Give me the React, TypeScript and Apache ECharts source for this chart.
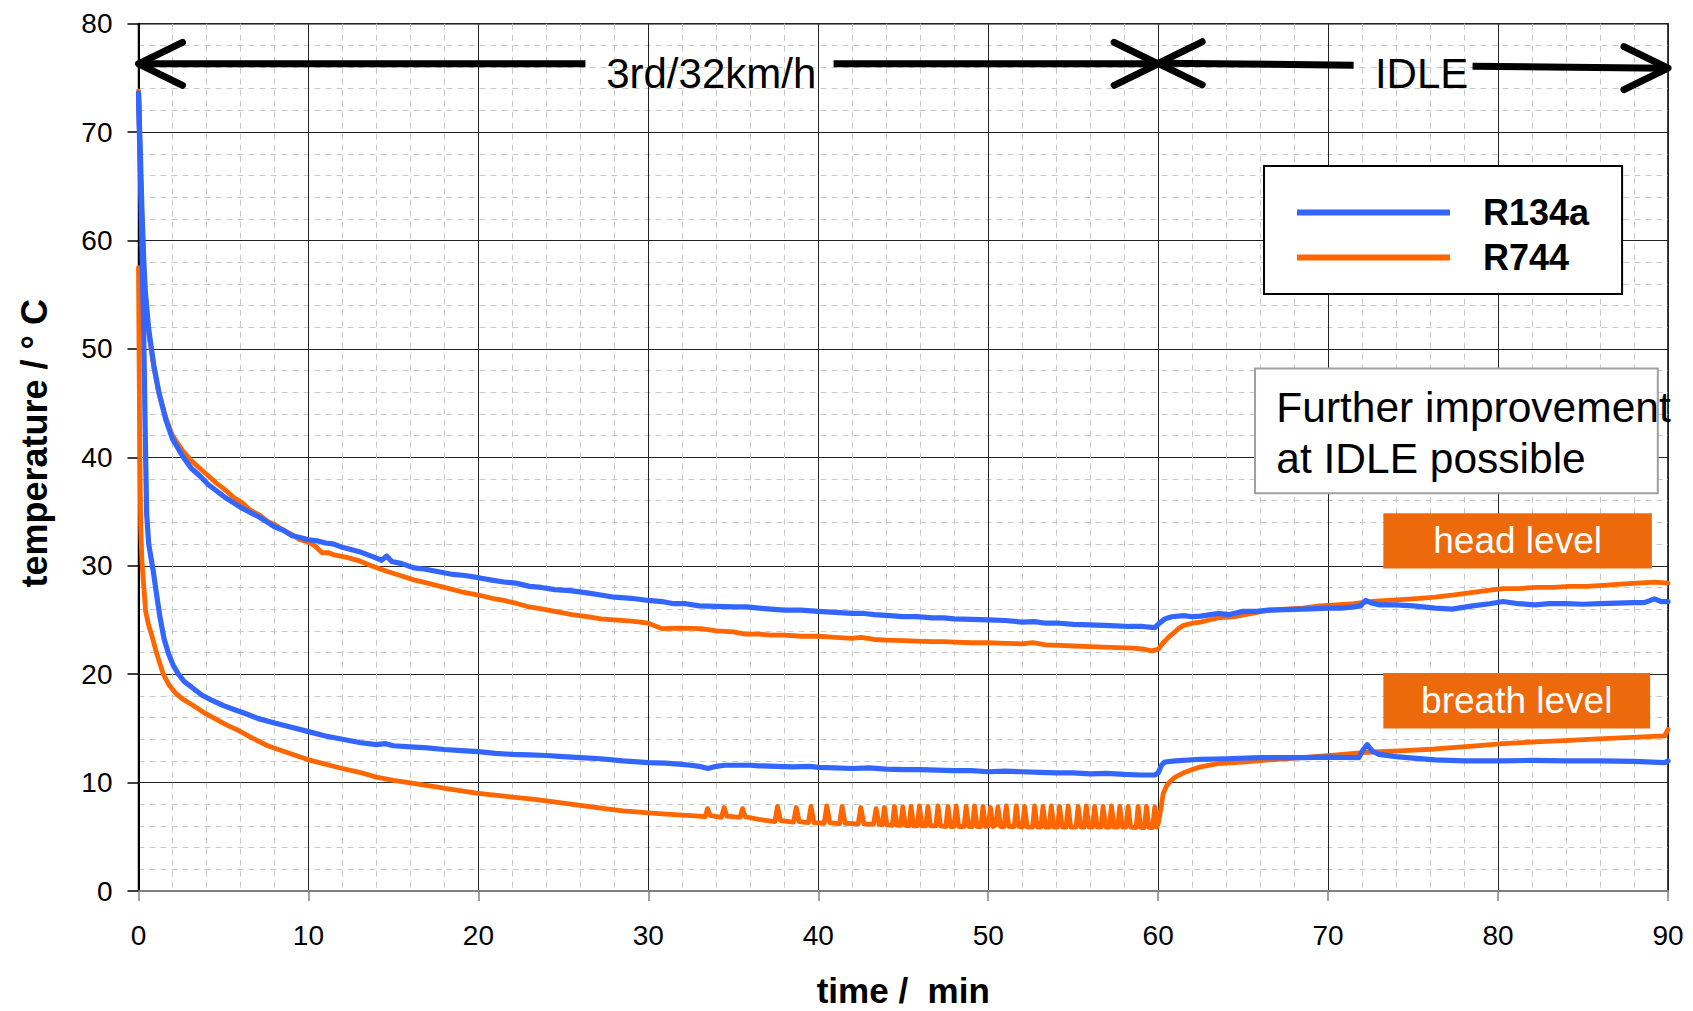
import React, { useEffect, useRef } from "react";
import * as echarts from "echarts";

const FONT = "'Liberation Sans', Arial, Helvetica, sans-serif";
const BLUE = "#3366FF";
const ORANGE = "#FF6600";
const TAG = "#EC6A0C";

const X_MIN = 0;
const X_MAX = 90;
const X_STEP = 10;
const Y_MIN = 0;
const Y_MAX = 80;
const Y_STEP = 10;

const SERIES_NAMES = ["R134a", "R744"];

// R134a, head level  [time min, temperature °C]
const R134A_HEAD: number[][] = [
  [0, 73.6], [0.1, 68.5], [0.2, 63.0], [0.3, 58.5], [0.4, 55.3], [0.6, 51.8], [0.9, 48.5], [1.2, 46.0],
  [1.6, 43.5], [2.0, 41.7], [2.6, 40.1], [3.1, 39.0], [3.6, 38.3], [4.1, 37.5], [4.6, 36.9], [5.1, 36.3],
  [5.6, 35.8], [6.1, 35.3], [6.6, 34.9], [7.1, 34.5], [7.6, 34.0], [8.0, 33.6], [8.5, 33.3], [9.0, 32.8],
  [9.5, 32.6], [10.0, 32.4], [10.5, 32.3], [11.0, 32.1], [11.5, 32.0], [12.0, 31.7], [12.5, 31.5], [13.0, 31.3],
  [13.5, 31.0], [14.0, 30.7], [14.3, 30.5], [14.6, 30.9], [14.9, 30.4], [15.5, 30.2], [16.2, 29.8], [16.8, 29.7],
  [17.5, 29.5], [18.5, 29.2], [19.2, 29.1], [20, 28.9], [20.7, 28.7], [21.5, 28.5], [22.2, 28.4], [23, 28.1],
  [23.7, 28.0], [24.5, 27.8], [25.4, 27.7], [26.4, 27.5], [27.2, 27.3], [28, 27.1], [29, 27.0], [30, 26.8],
  [30.8, 26.7], [31.5, 26.5], [32.2, 26.5], [33, 26.3], [34, 26.25], [35, 26.2], [35.8, 26.2], [36.5, 26.1],
  [37.2, 26.0], [38, 25.9], [39, 25.9], [40, 25.8], [41, 25.7], [42, 25.6], [42.7, 25.6], [43.3, 25.5],
  [44.2, 25.4], [45, 25.3], [45.8, 25.3], [46.7, 25.2], [47.4, 25.2], [48, 25.1], [49, 25.05], [50, 25.0],
  [51, 24.95], [52, 24.8], [52.7, 24.85], [53.4, 24.7], [54.2, 24.7], [55, 24.6], [56, 24.55], [56.8, 24.5],
  [57.5, 24.45], [58.3, 24.4], [59.1, 24.4], [59.8, 24.3], [60.0, 24.6], [60.4, 25.1], [60.8, 25.3], [61.5, 25.4],
  [62, 25.3], [62.5, 25.35], [63.5, 25.6], [64.2, 25.5], [65, 25.8], [65.8, 25.8], [66.5, 25.9], [67.5, 25.95],
  [68.5, 26.0], [69.3, 26.05], [70, 26.1], [70.8, 26.1], [71.5, 26.2], [71.9, 26.3], [72.2, 26.8], [72.5, 26.6],
  [73, 26.4], [74, 26.4], [75, 26.3], [76.3, 26.1], [77.3, 26.0], [78.5, 26.3], [79.5, 26.5], [80.3, 26.7],
  [81.2, 26.5], [82.2, 26.4], [83, 26.5], [84, 26.5], [85, 26.45], [86, 26.5], [87, 26.55], [88, 26.6],
  [88.6, 26.6], [89.2, 26.95], [89.6, 26.7], [90, 26.7],
];

// R744, head level
const R744_HEAD: number[][] = [
  [0, 73.8], [0.05, 70.0], [0.1, 67.0], [0.2, 62.0], [0.3, 57.8], [0.4, 55.0], [0.6, 51.5], [0.9, 48.3],
  [1.2, 45.9], [1.6, 43.7], [2.0, 42.0], [2.6, 40.6], [3.1, 39.7], [3.6, 39.0], [4.1, 38.3], [4.6, 37.6],
  [5.1, 37.0], [5.6, 36.3], [6.1, 35.8], [6.6, 35.1], [7.1, 34.7], [7.6, 34.1], [8.0, 33.8], [8.5, 33.3],
  [9.0, 32.9], [9.5, 32.4], [10.0, 32.2], [10.4, 31.8], [10.8, 31.2], [11.2, 31.2], [11.5, 31.0], [12.2, 30.8],
  [12.9, 30.5], [13.7, 30.0], [14.6, 29.5], [15.4, 29.1], [16.2, 28.7], [17.0, 28.4], [18, 28.0], [19, 27.6],
  [20, 27.3], [20.8, 27.0], [21.5, 26.8], [22.3, 26.5], [23, 26.2], [23.8, 26.0], [24.5, 25.8], [25.5, 25.5],
  [26.4, 25.3], [27.2, 25.1], [28, 25.0], [29, 24.9], [30, 24.7], [30.8, 24.2], [31.8, 24.25], [33.1, 24.2],
  [34, 24.0], [35, 23.9], [35.7, 23.7], [36.5, 23.7], [37.2, 23.6], [38, 23.6], [39, 23.5], [40, 23.5],
  [41, 23.4], [42, 23.3], [42.5, 23.4], [43.3, 23.2], [44, 23.15], [45, 23.1], [45.8, 23.05], [46.7, 23.0],
  [47.4, 23.0], [48, 22.95], [49, 22.9], [50, 22.9], [51, 22.85], [52, 22.8], [52.6, 22.9], [53.4, 22.7],
  [54.2, 22.65], [55, 22.6], [56, 22.55], [56.8, 22.5], [57.6, 22.45], [58.5, 22.4], [59.2, 22.3], [59.6, 22.15],
  [60.0, 22.3], [60.3, 22.9], [60.6, 23.4], [60.9, 23.8], [61.2, 24.2], [61.5, 24.5], [62, 24.7], [62.5, 24.8],
  [63, 25.0], [63.5, 25.2], [64.5, 25.3], [65.5, 25.6], [66.5, 25.9], [67.5, 26.0], [68.5, 26.1], [69.5, 26.3],
  [70.5, 26.4], [71.5, 26.5], [72.4, 26.7], [73.5, 26.8], [74.5, 26.9], [75.4, 27.0], [76.3, 27.1], [77.3, 27.3],
  [78.3, 27.5], [79.3, 27.7], [80.3, 27.9], [81.2, 27.9], [82.2, 28.0], [83.2, 28.0], [84.2, 28.1], [85.2, 28.1],
  [86.2, 28.2], [87.2, 28.3], [88.2, 28.4], [89.2, 28.5], [90, 28.4],
];

// R134a, breath level
const R134A_BREATH: number[][] = [
  [0, 73.6], [0.08, 68], [0.15, 63.5], [0.22, 58], [0.3, 52], [0.36, 46], [0.42, 40], [0.48, 34.8],
  [0.6, 32.0], [0.75, 30.6], [0.88, 29.4], [1.05, 27.5], [1.27, 25.2], [1.5, 23.3], [1.76, 21.9], [2.05, 20.8],
  [2.35, 20.0], [2.7, 19.3], [3.13, 18.8], [3.7, 18.1], [4.3, 17.6], [5.0, 17.1], [5.7, 16.7], [6.4, 16.3],
  [7.06, 15.9], [8.0, 15.5], [9.0, 15.1], [10, 14.7], [11, 14.3], [12, 14.0], [13, 13.7], [14, 13.5],
  [14.5, 13.6], [15, 13.4], [16, 13.3], [17, 13.2], [18, 13.05], [19, 12.95], [20, 12.85], [21, 12.7],
  [22, 12.6], [23, 12.55], [24, 12.5], [25, 12.4], [26, 12.3], [27.2, 12.2], [28.5, 12.0], [30, 11.85],
  [31, 11.8], [31.8, 11.7], [32.5, 11.6], [33, 11.5], [33.5, 11.3], [34, 11.5], [34.5, 11.6], [35, 11.6],
  [36, 11.6], [36.5, 11.55], [37.5, 11.5], [38.5, 11.45], [39.5, 11.5], [40, 11.4], [41, 11.35], [42, 11.3],
  [43, 11.35], [44, 11.25], [45, 11.2], [46, 11.2], [47, 11.15], [48, 11.1], [49, 11.1], [50, 11.0],
  [51, 11.05], [52, 11.0], [53, 10.95], [54, 10.9], [55, 10.9], [56, 10.8], [57, 10.85], [58, 10.75],
  [59, 10.7], [59.8, 10.7], [60.0, 10.9], [60.2, 11.6], [60.4, 11.9], [61, 12.0], [62.5, 12.15], [64, 12.2],
  [66, 12.3], [68.5, 12.3], [70, 12.35], [71.8, 12.3], [72.05, 13.0], [72.3, 13.5], [72.6, 12.9], [73, 12.6],
  [74, 12.4], [75, 12.25], [76.3, 12.1], [78, 12.0], [80.3, 12.0], [82, 12.05], [84, 12.0], [86, 12.0],
  [88, 11.95], [89.8, 11.85], [90, 12.0],
];

// R744, breath level
const R744_BREATH: number[][] = [
  [0, 57.5], [0.04, 48], [0.08, 40], [0.13, 33.6], [0.2, 30.5], [0.29, 28.5], [0.42, 25.8], [0.6, 24.5],
  [0.78, 23.6], [1.07, 21.9], [1.46, 20.0], [1.8, 19.0], [2.15, 18.3], [2.6, 17.7], [3.13, 17.2], [3.8, 16.5],
  [4.5, 15.9], [5.2, 15.3], [5.9, 14.8], [6.7, 14.1], [7.6, 13.4], [8.7, 12.8], [10, 12.1], [11, 11.7],
  [12, 11.3], [13, 10.95], [14, 10.5], [15, 10.2], [16.1, 9.95], [17.5, 9.6], [18.5, 9.35], [20, 9.0],
  [21.5, 8.75], [23.3, 8.45], [25, 8.1], [27.2, 7.65], [28.5, 7.4], [30, 7.2], [31.5, 7.05], [33.0, 6.9],
  [33.35, 6.85], [33.48, 7.6], [33.65, 6.95], [34.3, 6.8], [34.46, 7.7], [34.62, 6.9], [35.4, 6.8], [35.54, 7.6],
  [35.7, 6.85], [36.5, 6.6], [37.45, 6.4], [37.6, 7.8], [37.78, 6.5], [38.55, 6.35], [38.7, 7.7], [38.88, 6.4],
  [39.42, 6.3], [39.57, 7.8], [39.75, 6.3], [40.35, 6.25], [40.5, 7.85], [40.68, 6.3], [41.25, 6.2], [41.4, 7.8],
  [41.58, 6.25], [42.35, 6.2], [42.5, 7.7], [42.68, 6.2], [43.25, 6.15], [43.4, 7.6], [43.58, 6.15],
  [43.77, 6.1], [43.89, 7.7], [44.04, 6.1], [44.36, 6.05], [44.48, 7.8], [44.63, 6.05],
  [44.85, 6.05], [44.97, 7.75], [45.12, 6.05], [45.34, 6.0], [45.46, 7.8], [45.61, 6.0],
  [45.83, 6.0], [45.95, 7.85], [46.10, 6.0], [46.33, 6.0], [46.45, 7.8], [46.60, 6.0],
  [46.92, 6.0], [47.04, 7.85], [47.19, 6.0], [47.51, 5.95], [47.63, 7.8], [47.78, 5.95],
  [47.99, 5.95], [48.11, 7.85], [48.26, 5.95], [48.58, 5.95], [48.70, 7.8], [48.85, 5.95],
  [49.07, 5.95], [49.19, 7.85], [49.34, 5.95], [49.57, 5.95], [49.69, 7.8], [49.84, 5.95],
  [50.01, 6.0], [50.13, 7.7], [50.28, 5.95], [50.45, 6.1], [50.57, 7.75], [50.72, 5.95],
  [50.94, 5.95], [51.06, 7.85], [51.21, 5.95], [51.53, 5.95], [51.65, 7.85], [51.80, 5.95],
  [52.02, 5.9], [52.14, 7.8], [52.29, 5.9], [52.61, 5.9], [52.73, 7.85], [52.88, 5.9],
  [53.10, 5.9], [53.22, 7.8], [53.37, 5.9], [53.59, 5.9], [53.71, 7.85], [53.86, 5.9],
  [54.08, 5.9], [54.20, 7.8], [54.35, 5.9], [54.58, 5.9], [54.70, 7.85], [54.85, 5.9],
  [55.17, 5.9], [55.29, 7.8], [55.44, 5.9], [55.65, 5.9], [55.77, 7.85], [55.92, 5.9],
  [56.14, 5.9], [56.26, 7.8], [56.41, 5.9], [56.64, 5.9], [56.76, 7.8], [56.91, 5.9],
  [57.13, 5.9], [57.25, 7.85], [57.40, 5.9], [57.62, 5.9], [57.74, 7.8], [57.89, 5.9],
  [58.11, 5.9], [58.23, 7.8], [58.38, 5.9], [58.70, 5.85], [58.82, 7.8], [58.97, 5.85],
  [59.19, 5.85], [59.31, 7.8], [59.46, 5.85], [59.68, 5.85], [59.80, 7.75], [59.92, 5.9],
  [60.0, 6.2], [60.15, 7.5], [60.3, 9.0], [60.5, 9.7], [60.7, 10.1], [61.0, 10.5], [61.5, 10.9], [62.0, 11.2],
  [62.5, 11.45], [63.5, 11.75], [64.5, 11.85], [65.5, 11.95], [67, 12.15], [68.5, 12.3], [70.5, 12.55], [72.4, 12.8],
  [74.5, 12.95], [76.3, 13.1], [78.3, 13.35], [80.3, 13.6], [82.2, 13.75], [84.2, 13.9], [86.2, 14.05], [88.2, 14.2],
  [89.8, 14.3], [90, 14.9],
];

// Phase arrows: start/end [time, temp], white gap (time range), label centre [time, temp]
const PHASE_LABELS = ["3rd/32km/h", "IDLE"];
const PHASE_FROM = [[0, 76.3], [60, 76.35]];
const PHASE_TO = [[60, 76.3], [90, 75.9]];
const PHASE_GAP = [[26.3, 40.9], [71.5, 78.5]];
const PHASE_TEXT_AT = [[33.7, 75.4], [75.5, 75.4]];

// Note box
const NOTE_LINES = ["Further improvement", "at IDLE possible"];
const NOTE_BOX = [[65.7, 48.2], [89.4, 36.7]];
const NOTE_TEXT_AT = [66.95, 42.2];

// Level tags
const TAG_LABELS = ["head level", "breath level"];
const TAG_BOXES = [
  [[73.25, 34.85], [89.05, 29.75]],
  [[73.25, 20.1], [88.95, 15.0]],
];

export default function App() {
  const ref = useRef<HTMLDivElement>(null);

  useEffect(() => {
    if (!ref.current) return;
    const chart = echarts.init(ref.current, null, { renderer: "svg" });

    const lineSeries = (name: string, data: number[][], color: string, width: number) => ({
      name,
      type: "line",
      data,
      symbol: "none",
      showSymbol: false,
      smooth: false,
      clip: true,
      lineStyle: { color, width, join: "round", cap: "round" },
      itemStyle: { color },
      emphasis: { disabled: true },
    });

    chart.setOption({
      animation: false,
      backgroundColor: "#ffffff",
      textStyle: { fontFamily: FONT },
      grid: {
        left: 138.5,
        right: 25,
        top: 23.7,
        bottom: 120,
        containLabel: false,
        outerBoundsMode: "none",
        show: true,
        borderColor: "#000",
        borderWidth: 1.5,
        backgroundColor: "transparent",
      },
      legend: {
        data: SERIES_NAMES.map((n) => ({ name: n, icon: "rect" })),
        orient: "vertical",
        left: 1264,
        top: 166,
        padding: [24, 33, 14, 33],
        itemWidth: 153,
        itemHeight: 6,
        itemGap: 0,
        backgroundColor: "#fff",
        borderColor: "#000",
        borderWidth: 2,
        selectedMode: false,
        textStyle: {
          fontFamily: FONT,
          fontSize: 36,
          fontWeight: "bold",
          color: "#000",
          lineHeight: 45,
          padding: [0, 0, 0, 28],
        },
      },
      xAxis: {
        type: "value",
        min: X_MIN,
        max: X_MAX,
        interval: X_STEP,
        name: "time /  min",
        nameLocation: "middle",
        nameGap: 84,
        nameTextStyle: { fontFamily: FONT, fontSize: 35, fontWeight: "bold", color: "#000", lineHeight: 30 },
        axisLine: { show: true, onZero: false, lineStyle: { color: "#808080", width: 2 } },
        axisTick: { show: true, length: 10, lineStyle: { color: "#808080", width: 1.5 } },
        axisLabel: { fontFamily: FONT, fontSize: 28, color: "#000", margin: 30, showMinLabel: true, showMaxLabel: true },
        splitLine: { show: true, lineStyle: { color: "#222", width: 1 } },
        minorTick: { show: false, splitNumber: 5 },
        minorSplitLine: { show: true, lineStyle: { color: "#c8c8c8", width: 1, type: [6, 5] } },
      },
      yAxis: {
        type: "value",
        min: Y_MIN,
        max: Y_MAX,
        interval: Y_STEP,
        name: "temperature / ° C",
        nameLocation: "middle",
        nameGap: 86,
        nameTextStyle: {
          fontFamily: FONT,
          fontSize: 36,
          fontWeight: "bold",
          color: "#000",
          padding: [0, 0, 0, 28],
        },
        axisLine: { show: true, onZero: false, lineStyle: { color: "#000", width: 2 } },
        axisTick: { show: true, length: 11, lineStyle: { color: "#000", width: 1.5 } },
        axisLabel: { fontFamily: FONT, fontSize: 28, color: "#000", margin: 26, showMinLabel: true, showMaxLabel: true },
        splitLine: { show: true, lineStyle: { color: "#222", width: 1 } },
        minorTick: { show: false, splitNumber: 5 },
        minorSplitLine: { show: true, lineStyle: { color: "#c8c8c8", width: 1, type: [6, 5] } },
      },
      series: [
        lineSeries("R744", R744_HEAD, ORANGE, 4.8),
        lineSeries("R744", R744_BREATH, ORANGE, 4.8),
        lineSeries("R134a", R134A_HEAD, BLUE, 5.2),
        lineSeries("R134a", R134A_BREATH, BLUE, 5.2),
      ],
    });

    const px = (p: number[]) => chart.convertToPixel({ gridIndex: 0 }, p) as number[];
    const graphics: any[] = [];
    const ARM_X = 44;
    const ARM_Y = 21.5;
    const ARROW_W = 7;

    PHASE_LABELS.forEach((label, i) => {
      const a = px(PHASE_FROM[i]);
      const b = px(PHASE_TO[i]);
      const g1x = px([PHASE_GAP[i][0], PHASE_FROM[i][1]])[0];
      const g2x = px([PHASE_GAP[i][1], PHASE_FROM[i][1]])[0];
      const yAt = (x: number) => a[1] + ((b[1] - a[1]) * (x - a[0])) / (b[0] - a[0]);
      const stroke = { stroke: "#000", lineWidth: ARROW_W, lineCap: "butt" };
      graphics.push({
        type: "line",
        z: 100,
        shape: { x1: a[0] + 2, y1: a[1], x2: g1x, y2: yAt(g1x) },
        style: stroke,
      });
      graphics.push({
        type: "line",
        z: 100,
        shape: { x1: g2x, y1: yAt(g2x), x2: b[0] - 2, y2: b[1] },
        style: stroke,
      });
      graphics.push({
        type: "polyline",
        z: 100,
        shape: { points: [[a[0] + ARM_X, a[1] - ARM_Y], [a[0], a[1]], [a[0] + ARM_X, a[1] + ARM_Y]] },
        style: { stroke: "#000", lineWidth: ARROW_W, lineCap: "round", lineJoin: "round", fill: null },
      });
      graphics.push({
        type: "polyline",
        z: 100,
        shape: { points: [[b[0] - ARM_X, b[1] - ARM_Y], [b[0], b[1]], [b[0] - ARM_X, b[1] + ARM_Y]] },
        style: { stroke: "#000", lineWidth: ARROW_W, lineCap: "round", lineJoin: "round", fill: null },
      });
      const t = px(PHASE_TEXT_AT[i]);
      graphics.push({
        type: "text",
        z: 101,
        x: t[0],
        y: t[1],
        style: {
          text: label,
          fontFamily: FONT,
          fontSize: 42,
          fill: "#000",
          align: "center",
          verticalAlign: "middle",
        },
      });
    });

    // note box
    {
      const p1 = px(NOTE_BOX[0]);
      const p2 = px(NOTE_BOX[1]);
      graphics.push({
        type: "rect",
        z: 100,
        shape: { x: p1[0], y: p1[1], width: p2[0] - p1[0], height: p2[1] - p1[1] },
        style: { fill: "#fff", stroke: "#a0a0a0", lineWidth: 2 },
      });
      const t = px(NOTE_TEXT_AT);
      graphics.push({
        type: "text",
        z: 101,
        x: t[0],
        y: t[1],
        style: {
          text: NOTE_LINES.join("\n"),
          fontFamily: FONT,
          fontSize: 42.5,
          lineHeight: 51,
          fill: "#000",
          align: "left",
          verticalAlign: "middle",
        },
      });
    }

    TAG_LABELS.forEach((label, i) => {
      const p1 = px(TAG_BOXES[i][0]);
      const p2 = px(TAG_BOXES[i][1]);
      graphics.push({
        type: "rect",
        z: 100,
        shape: { x: p1[0], y: p1[1], width: p2[0] - p1[0], height: p2[1] - p1[1] },
        style: { fill: TAG, stroke: null },
      });
      graphics.push({
        type: "text",
        z: 101,
        x: (p1[0] + p2[0]) / 2,
        y: (p1[1] + p2[1]) / 2,
        style: {
          text: label,
          fontFamily: FONT,
          fontSize: 37,
          fill: "#fff",
          align: "center",
          verticalAlign: "middle",
        },
      });
    });

    chart.setOption({ graphic: graphics });

    return () => {
      chart.dispose();
    };
  }, []);

  return (
    <div
      ref={ref}
      style={{ position: "fixed", left: 0, top: 0, width: 1693, height: 1011, background: "#fff" }}
    />
  );
}
